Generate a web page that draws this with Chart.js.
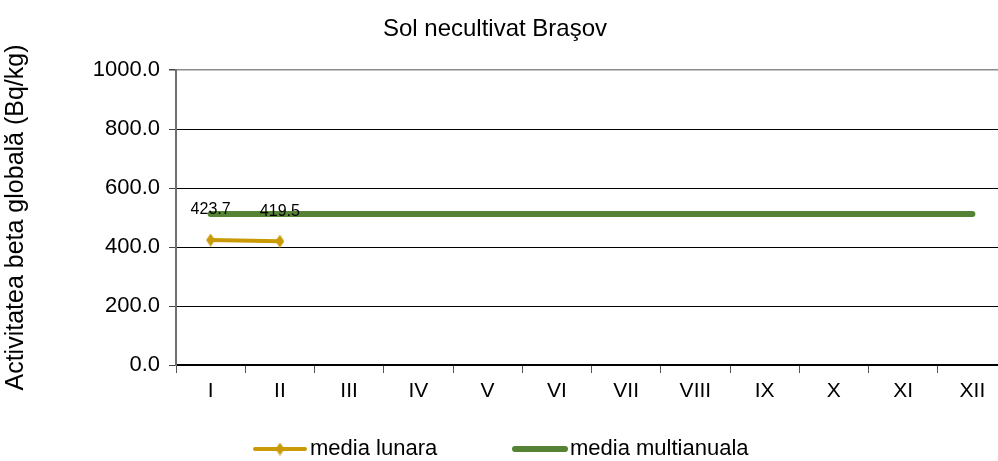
<!DOCTYPE html>
<html>
<head>
<meta charset="utf-8">
<script src="https://cdn.jsdelivr.net/npm/chart.js@4.4.0/dist/chart.umd.min.js"></script>
<style>
html, body { margin: 0; padding: 0; background: #fff; overflow: hidden; }
#wrap { position: relative; width: 998px; height: 461px; }
</style>
</head>
<body>
<div id="wrap"><canvas id="SolChart"></canvas></div>
<script>
// date
var months = ['I', 'II', 'III', 'IV', 'V', 'VI', 'VII', 'VIII', 'IX', 'X', 'XI', 'XII'];
var mediaLunara = [423.7, 419.5, null, null, null, null, null, null, null, null, null, null];
var mediaMultianuala = [512, 512, 512, 512, 512, 512, 512, 512, 512, 512, 512, 512];
var seriesNames = ['media lunara', 'media multianuala'];
var chartTitle = 'Sol necultivat Braşov';
var yTitle = 'Activitatea beta globală (Bq/kg)';

var gold = '#C99A06';
var green = '#558234';
var fontFam = "'Liberation Sans', Arial, sans-serif";

// romb ingust folosit ca marker (ca in Excel)
function makeDiamond(w, h, color) {
  var c = document.createElement('canvas');
  c.width = w;
  c.height = h;
  var g = c.getContext('2d');
  g.fillStyle = color;
  g.beginPath();
  g.moveTo(w / 2, 0);
  g.lineTo(w, h / 2);
  g.lineTo(w / 2, h);
  g.lineTo(0, h / 2);
  g.closePath();
  g.fill();
  return c;
}
var diamond = makeDiamond(9, 13, gold);

// zona graficului continua putin dincolo de marginea dreapta (taiata, ca in original)
var extendRight = {
  id: 'extendRight',
  afterLayout: function(chart) {
    var right = 1007;
    var area = chart.chartArea;
    var xs = chart.scales.x;
    area.right = right;
    area.width = right - area.left;
    xs.right = right;
    xs.width = right - xs.left;
    xs.configure();
  }
};

// eticheta cu valoarea deasupra punctelor din media lunara
var valueLabels = {
  id: 'valueLabels',
  afterDatasetsDraw: function(chart) {
    var ctx = chart.ctx;
    var meta = chart.getDatasetMeta(0);
    var data = chart.data.datasets[0].data;
    ctx.save();
    ctx.font = '16px ' + fontFam;
    ctx.fillStyle = '#000';
    ctx.textAlign = 'center';
    ctx.textBaseline = 'middle';
    meta.data.forEach(function(pt, i) {
      if (data[i] === null) return;
      ctx.fillText(data[i].toFixed(1), pt.x, pt.y - 30);
    });
    ctx.restore();
  }
};

// titlul si legenda desenate ca in Excel
var titleAndLegend = {
  id: 'titleAndLegend',
  afterDraw: function(chart) {
    var ctx = chart.ctx;
    ctx.save();
    ctx.fillStyle = '#000';
    ctx.font = '24px ' + fontFam;
    ctx.textAlign = 'center';
    ctx.textBaseline = 'alphabetic';
    ctx.fillText(chartTitle, 495, 36);

    var startX = [255, 515];
    var y = 449;
    chart.data.datasets.forEach(function(ds, i) {
      var x0 = startX[i];
      ctx.strokeStyle = ds.borderColor;
      ctx.lineWidth = i === 0 ? 4 : 6;
      ctx.lineCap = 'round';
      ctx.beginPath();
      ctx.moveTo(x0, y);
      ctx.lineTo(x0 + 50, y);
      ctx.stroke();
      if (i === 0) {
        ctx.drawImage(diamond, x0 + 25 - 4.5, y - 6.5);
      }
      ctx.fillStyle = '#000';
      ctx.font = '22px ' + fontFam;
      ctx.textAlign = 'left';
      ctx.textBaseline = 'middle';
      ctx.fillText(ds.label, x0 + 55, y);
    });
    ctx.restore();
  }
};

var ctx = document.getElementById('SolChart').getContext('2d');
var myChart = new Chart(ctx, {
  type: 'line',
  data: {
    labels: months,
    datasets: [{
      label: seriesNames[0],
      data: mediaLunara,
      borderColor: gold,
      backgroundColor: gold,
      borderWidth: 4,
      pointStyle: diamond,
      pointRadius: 6,
      spanGaps: false
    }, {
      label: seriesNames[1],
      data: mediaMultianuala,
      borderColor: green,
      backgroundColor: green,
      borderWidth: 6,
      borderCapStyle: 'round',
      pointRadius: 0
    }]
  },
  options: {
    responsive: true,
    maintainAspectRatio: false,
    animation: false,
    layout: { padding: { top: 70, left: 0, right: 0, bottom: 0 } },
    plugins: {
      legend: { display: false },
      title: { display: false },
      tooltip: { enabled: false }
    },
    scales: {
      x: {
        offset: true,
        afterFit: function(scale) { scale.height = 96; },
        grid: {
          offset: true,
          drawOnChartArea: false,
          drawTicks: true,
          tickLength: 8,
          color: '#555'
        },
        border: { color: '#000', width: 1.5 },
        ticks: {
          color: '#000',
          padding: 6,
          maxRotation: 0,
          font: { family: fontFam, size: 21 }
        }
      },
      y: {
        min: 0,
        max: 1000,
        afterFit: function(scale) { scale.width = 176; },
        grid: {
          color: function(c) { return c.tick && c.tick.value === 1000 ? '#8c8c8c' : '#000'; },
          lineWidth: function(c) { return c.tick && c.tick.value === 1000 ? 1.5 : 1; },
          tickLength: 7,
          tickColor: '#444'
        },
        border: { color: '#6f6f6f', width: 2 },
        ticks: {
          stepSize: 200,
          padding: 9,
          color: '#000',
          font: { family: fontFam, size: 22 },
          callback: function(v) { return v.toFixed(1); }
        },
        title: {
          display: true,
          text: yTitle,
          color: '#000',
          padding: { top: 1, bottom: 0 },
          font: { family: fontFam, size: 25 }
        }
      }
    }
  },
  plugins: [extendRight, valueLabels, titleAndLegend]
});
</script>
</body>
</html>
